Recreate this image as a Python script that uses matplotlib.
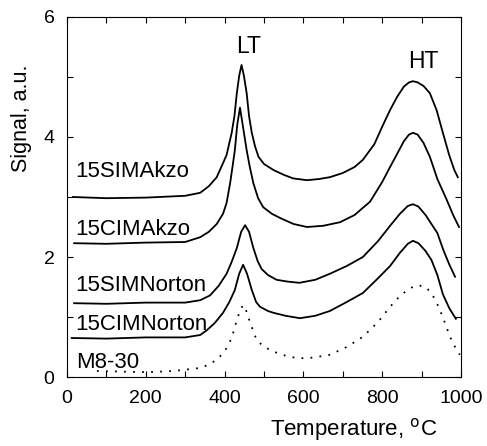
import numpy as np
import matplotlib.pyplot as plt

plt.rcParams['font.family'] = ['Liberation Sans', 'DejaVu Sans']

# temperature (C) and signal (a.u.), curves already offset
x_simakzo = [15, 100, 200, 300, 338, 360, 380, 395, 405, 418, 425, 431, 437, 443, 449, 456, 462, 469, 477,
             486, 500, 524, 550, 574, 609, 640, 667, 700, 730, 751, 780, 802, 820, 838, 855, 868, 878,
             890, 905, 921, 938, 954, 970, 983, 992]
y_simakzo = [3.0, 2.98, 2.99, 3.02, 3.07, 3.18, 3.33, 3.55, 3.7, 4.07, 4.35, 4.73, 5.02, 5.2, 5.02, 4.73, 4.35, 4.07, 3.85,
             3.67, 3.55, 3.45, 3.37, 3.31, 3.28, 3.3, 3.33, 3.4, 3.5, 3.62, 3.88, 4.2, 4.45, 4.67, 4.84, 4.91, 4.93,
             4.91, 4.85, 4.73, 4.45, 4.07, 3.7, 3.45, 3.33]

x_cimakzo = [18, 100, 200, 300, 338, 360, 380, 396, 405, 414, 420, 426, 432, 439, 446, 456, 464, 473, 485,
             498, 520, 541, 575, 609, 650, 693, 730, 751, 769, 800, 820, 838, 855, 868, 878, 890, 905,
             921, 940, 964, 980, 995]
y_cimakzo = [2.23, 2.22, 2.24, 2.25, 2.33, 2.42, 2.55, 2.72, 2.9, 3.23, 3.5, 3.78, 4.2, 4.49, 4.2, 3.78, 3.5, 3.23, 2.98,
             2.83, 2.72, 2.65, 2.55, 2.5, 2.52, 2.58, 2.7, 2.82, 2.92, 3.25, 3.5, 3.72, 3.93, 4.04, 4.07, 4.04, 3.9,
             3.67, 3.3, 2.95, 2.7, 2.5]

x_simnorton = [18, 100, 200, 300, 338, 363, 385, 405, 418, 431, 442, 452, 462, 473, 484, 494, 510, 532, 560,
               590, 630, 667, 710, 751, 790, 820, 845, 865, 878, 892, 910, 925, 940, 955, 970, 985]
y_simnorton = [1.23, 1.22, 1.24, 1.24, 1.28, 1.36, 1.52, 1.72, 1.92, 2.15, 2.42, 2.53, 2.42, 2.15, 1.93, 1.8, 1.7, 1.62, 1.59,
               1.57, 1.62, 1.72, 1.85, 2.0, 2.27, 2.52, 2.72, 2.85, 2.88, 2.84, 2.7, 2.55, 2.4, 2.12, 1.88, 1.67]

x_cimnorton = [12, 100, 200, 300, 338, 355, 375, 396, 412, 426, 437, 447, 457, 469, 480, 490, 510, 524, 555,
               591, 630, 667, 710, 751, 790, 820, 845, 865, 878, 892, 910, 925, 940, 954, 970, 987]
y_cimnorton = [0.65, 0.64, 0.66, 0.66, 0.7, 0.78, 0.9, 1.07, 1.25, 1.45, 1.72, 1.87, 1.72, 1.45, 1.25, 1.17, 1.1, 1.07, 1.02,
               0.98, 1.02, 1.1, 1.25, 1.4, 1.65, 1.85, 2.07, 2.22, 2.27, 2.23, 2.1, 1.95, 1.7, 1.38, 1.15, 0.97]

x_m830 = [76, 140, 203, 270, 338, 365, 388, 405, 418, 431, 440, 447, 455, 465, 481, 497, 515, 545, 579,
          609, 640, 667, 710, 751, 790, 820, 845, 870, 891, 910, 925, 939, 955, 972, 985, 997]
y_m830 = [0.1, 0.09, 0.08, 0.1, 0.15, 0.22, 0.34, 0.48, 0.65, 0.95, 1.12, 1.2, 1.1, 0.9, 0.62, 0.52, 0.45, 0.37, 0.32,
          0.31, 0.34, 0.37, 0.5, 0.67, 0.92, 1.17, 1.35, 1.48, 1.53, 1.5, 1.4, 1.23, 0.98, 0.67, 0.5, 0.37]

labels = ['15SIMAkzo', '15CIMAkzo', '15SIMNorton', '15CIMNorton', 'M8-30']
label_y = [3.42, 2.45, 1.52, 0.87, 0.25]

fig = plt.figure(figsize=(4.87, 4.46), dpi=100)
ax = fig.add_axes([0.1376, 0.1547, 0.809, 0.8072])

ax.plot(x_simakzo, y_simakzo, 'k', linewidth=1.3)
ax.plot(x_cimakzo, y_cimakzo, 'k', linewidth=1.3)
ax.plot(x_simnorton, y_simnorton, 'k', linewidth=1.3)
ax.plot(x_cimnorton, y_cimnorton, 'k', linewidth=1.3)
ax.plot(x_m830, y_m830, 'k', linewidth=1.3, linestyle=(0, (1, 4)))

for lab, ly in zip(labels, label_y):
    ax.text(22, ly, lab, fontsize=16, va='center', ha='left')

ax.text(462, 5.5, 'LT', fontsize=16.5, ha='center', va='center')
ax.text(904, 5.25, 'HT', fontsize=16.5, ha='center', va='center')

ax.set_xlim(0, 1000)
ax.set_ylim(0, 6)
ax.set_xticks(np.arange(0, 1001, 100))
ax.set_xticklabels([str(v) if v % 200 == 0 else '' for v in range(0, 1001, 100)])
ax.set_yticks(np.arange(0, 7, 1))
ax.set_yticklabels([str(v) if v % 2 == 0 else '' for v in range(0, 7)])
ax.tick_params(direction='in', top=True, right=True, length=4, labelsize=14)
ax.tick_params(axis='x', pad=9)
ax.tick_params(axis='y', pad=9)

fig.text(22 / 487, 1 - 118 / 446, 'Signal, a.u.', rotation=90, fontsize=15.5,
         ha='center', va='center')
fig.text(354 / 487, 1 - 435 / 446, 'Temperature, $^{\\rm o}$C', fontsize=16,
         ha='center', va='baseline')

plt.savefig('out.png')
